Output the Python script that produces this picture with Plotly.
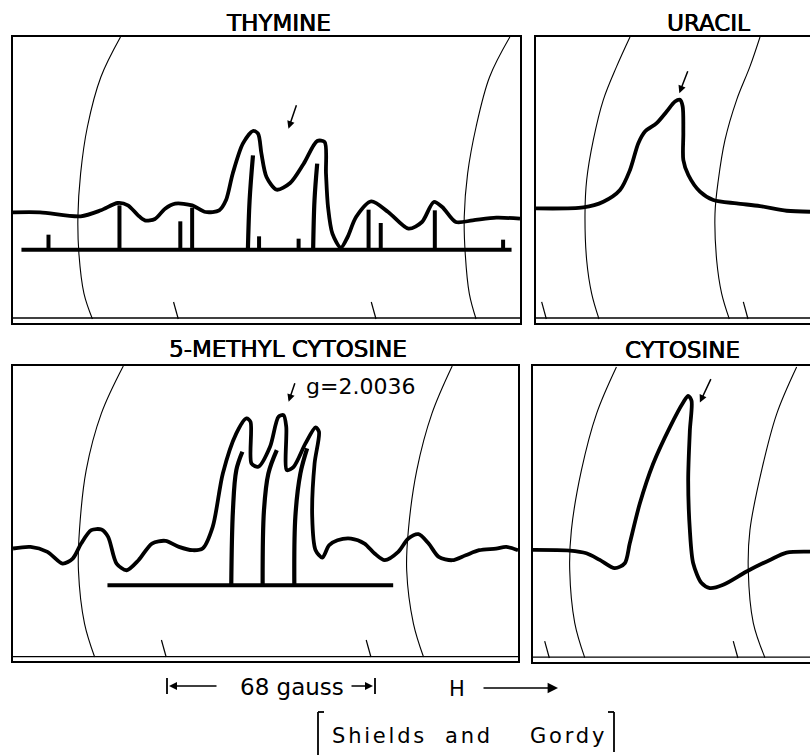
import plotly.graph_objects as go

W, H = 810, 755

# ---------------- THYMINE (panel 1) ----------------
thy_curve_x = [0, 8, 20, 26, 31, 34, 37, 39, 42, 45, 48, 53, 57, 61, 63, 65, 68, 71, 72.5, 73.5, 75,
               78, 82, 86, 90, 92.2, 92.6, 93.2, 94.5, 97, 99, 101.5, 106, 111, 117, 121, 124.5, 127,
               131, 136, 143, 150]
thy_curve_y = [33.2, 33.2, 32.0, 33.8, 36.0, 35.3, 32.3, 30.8, 31.2, 34.3, 35.8, 35.3, 33.3, 33.8, 36.8,
               44.8, 53.8, 57.6, 56.8, 50.8, 43.8, 40.0, 42.0, 47.8, 54.6, 54.3, 44.8, 34.8, 26.8, 22.6,
               25.8, 31.8, 36.5, 33.3, 28.3, 30.3, 36.3, 34.8, 30.3, 30.8, 31.6, 31.3]
thy_stick_x = [10.5, 31.5, 49.5, 53, 72.8, 84.5, 105.2, 108.8, 124.8, 145]
thy_stick_top = [26.5, 35.3, 30.5, 34.6, 26.0, 25.3, 34.0, 30.0, 33.8, 25.0]
thy_tall1_x = [69.5, 70.0, 71.0]
thy_tall1_y = [22.0, 36.8, 50.3]
thy_tall2_x = [88.8, 89.2, 90.0]
thy_tall2_y = [22.0, 36.8, 47.8]
thy_base_y = 22.0
thy_base_x = [2.5, 147.5]
thy_arc_y = [85.8, 73.8, 58.8, 44.8, 31.8, 20.8, 8.8, 1.2]
thy_arcL_x = [31.8, 26, 22, 20, 19.2, 19.5, 21, 23.5]
thy_arcR_x = [147, 141, 137, 134.5, 133.5, 133.8, 135, 137]
thy_tick_x = [47.5, 106]

# ---------------- URACIL (panel 2) ----------------
ura_curve_x = [0, 14.2, 20.2, 25.2, 28.2, 30.7, 32.7, 36.2, 39.2, 41.7, 43.2, 44, 44.2, 44.2, 45.7,
               49.2, 53.2, 60.2, 67.2, 75.2, 82.2]
ura_curve_y = [34.3, 34.6, 36.3, 39.8, 45.8, 53.8, 57.3, 59.8, 63.3, 66.3, 66.8, 64.8, 56.8, 48.8, 44.3,
               39.3, 36.8, 35.8, 35.0, 33.6, 33.3]
ura_arc_y = [85.6, 76.8, 66.8, 54.8, 42.8, 32.8, 18.8, 8.8, 1.2]
ura_arcL_x = [28.2, 24.2, 20.2, 17.2, 15.2, 14.7, 15.2, 16.7, 18.9]
ura_arcR_x = [67.2, 64.2, 60.2, 56.7, 54.7, 53.7, 54.2, 55.7, 58.0]
ura_tick_x = [1.7, 62.2]

# ---------------- 5-METHYL CYTOSINE (panel 3) ----------------
mc_curve_x = [0, 5.2, 10.2, 14.7, 17.7, 20.2, 23.2, 26.2, 28.2, 30.7, 33.7, 37.2, 41.2, 45.2, 49.2,
              53.2, 56.2, 59.2, 62.2, 66.2, 69.2, 70.4, 70.7, 72.7, 76.2, 78.7, 80.2, 81.0, 81.2,
              83.2, 86.7, 89.7, 90.7, 89.4, 88.7, 89.7, 91.7, 93.7, 96.2, 100.2, 104.2, 107.2,
              110.2, 114.2, 117.2, 120.2, 123.2, 126.2, 130.2, 134.2, 138.2, 143.2, 146.2, 149.7]
mc_curve_y = [33.7, 34.2, 32.7, 29.2, 30.7, 35.2, 39.2, 39.4, 37.2, 29.2, 27.2, 30.2, 35.2, 36.0, 34.2,
              33.2, 33.7, 40.2, 56.2, 68.2, 72.7, 71.7, 59.2, 58.2, 64.2, 73.2, 73.7, 70.2, 57.2,
              58.2, 65.2, 70.0, 68.7, 59.2, 43.2, 33.2, 31.0, 34.7, 36.2, 36.7, 35.2, 32.2,
              30.2, 32.7, 36.7, 38.0, 35.2, 31.2, 30.2, 31.7, 33.2, 33.7, 34.2, 33.2]
mc_stick1_x = [64.7, 65.2, 66.2, 68.0]
mc_stick1_y = [22.7, 45.2, 57.2, 62.7]
mc_stick2_x = [74.0, 74.4, 75.7, 78.2]
mc_stick2_y = [22.7, 45.2, 56.2, 63.2]
mc_stick3_x = [83.4, 83.7, 85.2, 87.2]
mc_stick3_y = [22.7, 43.2, 56.2, 63.7]
mc_base_y = 22.7
mc_base_x = [28.0, 112.7]
mc_arc_y = [88.4, 74.2, 57.2, 39.2, 27.2, 11.2, 1.2]
mc_arcL_x = [32.7, 26.2, 21.7, 19.7, 19.4, 21.2, 24.2]
mc_arcR_x = [130.2, 124.2, 119.7, 117.2, 116.7, 118.7, 121.7]
mc_tick_x = [44.0, 104.7]

# ---------------- CYTOSINE (panel 4) ----------------
cy_curve_x = [0, 11, 16, 20, 24.5, 27.5, 29, 32, 36, 41, 45, 46.5, 47.5, 47, 46.5, 47, 48, 50.5, 53,
              57, 64, 71, 76, 83]
cy_curve_y = [33.8, 33.6, 32.8, 30.8, 28.3, 29.8, 35.8, 47.8, 59.8, 70.8, 78.3, 80.3, 78.8, 69.8,
              54.8, 39.8, 29.8, 23.8, 22.3, 23.3, 27.3, 30.8, 33.0, 33.3]
cy_arc_y = [89.0, 74.8, 57.8, 39.8, 27.8, 11.8, 1.3]
cy_arcL_x = [25, 19, 14.5, 11.5, 11, 12.5, 15.5]
cy_arcR_x = [79, 73, 68.5, 65, 64.5, 66, 69.5]
cy_tick_x = [3.5, 60.0]

titles = ["THYMINE", "URACIL", "5-METHYL CYTOSINE", "CYTOSINE"]
g_label = "g=2.0036"
citation_words = ["Shields", "and", "Gordy"]

# ---------------- panel geometry (pixels) ----------------
def dom_x(a, b):
    return [a / W, min(b / W, 1.0)]

def dom_y(top, bot):
    return [1 - bot / H, 1 - top / H]

panels = [
    dict(dx=dom_x(13, 520), dy=dom_y(37, 323), xr=[0, 150], yr=[0, 85.8], inner=1.5, box=True),
    dict(dx=dom_x(536, 810), dy=dom_y(37, 323), xr=[0, 82.2], yr=[0, 85.6], inner=1.5, box=False),
    dict(dx=dom_x(13, 518), dy=dom_y(366, 661), xr=[0, 149.7], yr=[0, 88.4], inner=1.3, box=True),
    dict(dx=dom_x(533, 810), dy=dom_y(366, 662), xr=[0, 83], yr=[0, 89.3], inner=1.5, box=False),
]

fig = go.Figure()
BLK = "black"

def ax_names(i):
    return ("x" if i == 1 else f"x{i}"), ("y" if i == 1 else f"y{i}")

def line(i, xs, ys, w, smooth=None):
    xa, ya = ax_names(i)
    kw = dict(shape="spline", smoothing=smooth) if smooth else dict(shape="linear")
    fig.add_trace(go.Scatter(x=xs, y=ys, mode="lines", xaxis=xa, yaxis=ya,
                             line=dict(color=BLK, width=w, **kw),
                             hoverinfo="skip", showlegend=False))

def sticks(i, xs, tops, base, w):
    sx, sy = [], []
    for x, t in zip(xs, tops):
        sx += [x, x, None]
        sy += [base, t, None]
    line(i, sx, sy, w)

def ticks(i, xs, w=1.2):
    sx, sy = [], []
    for x in xs:
        sx += [x, x + 1.4, None]
        sy += [6.3, 1.2, None]
    line(i, sx, sy, w)

THIN = 1.1
CW = 3.8
# panel 1
line(1, thy_arcL_x, thy_arc_y, THIN, 1.0)
line(1, thy_arcR_x, thy_arc_y, THIN, 1.0)
ticks(1, thy_tick_x)
line(1, thy_base_x, [thy_base_y, thy_base_y], 4)
sticks(1, thy_stick_x, thy_stick_top, thy_base_y, 4)
line(1, thy_tall1_x, thy_tall1_y, 4.2, 1.0)
line(1, thy_tall2_x, thy_tall2_y, 4.2, 1.0)
line(1, thy_curve_x, thy_curve_y, CW, 0.8)
# panel 2
line(2, ura_arcL_x, ura_arc_y, THIN, 1.0)
line(2, ura_arcR_x, ura_arc_y, THIN, 1.0)
ticks(2, ura_tick_x)
line(2, ura_curve_x, ura_curve_y, CW, 0.8)
# panel 3
line(3, mc_arcL_x, mc_arc_y, THIN, 1.0)
line(3, mc_arcR_x, mc_arc_y, THIN, 1.0)
ticks(3, mc_tick_x)
line(3, mc_base_x, [mc_base_y, mc_base_y], 4)
line(3, mc_stick1_x, mc_stick1_y, 4.2, 1.0)
line(3, mc_stick2_x, mc_stick2_y, 4.2, 1.0)
line(3, mc_stick3_x, mc_stick3_y, 4.2, 1.0)
line(3, mc_curve_x, mc_curve_y, CW, 0.8)
# panel 4
line(4, cy_arcL_x, cy_arc_y, THIN, 1.0)
line(4, cy_arcR_x, cy_arc_y, THIN, 1.0)
ticks(4, cy_tick_x)
line(4, cy_curve_x, cy_curve_y, CW, 0.8)

layout = dict(width=W, height=H, margin=dict(l=0, r=0, t=0, b=0),
              paper_bgcolor="white", plot_bgcolor="white", showlegend=False)
shapes = []
for i, p in enumerate(panels, start=1):
    xa, ya = ax_names(i)
    kx = "xaxis" if i == 1 else f"xaxis{i}"
    ky = "yaxis" if i == 1 else f"yaxis{i}"
    layout[kx] = dict(domain=p["dx"], range=p["xr"], anchor=ya, showgrid=False, zeroline=False,
                      showticklabels=False, ticks="", showline=True, mirror=True,
                      linecolor=BLK, linewidth=1.6, fixedrange=True)
    layout[ky] = dict(domain=p["dy"], range=p["yr"], anchor=xa, showgrid=False, zeroline=False,
                      showticklabels=False, ticks="", showline=True, mirror=p["box"],
                      linecolor=BLK, linewidth=1.6, fixedrange=True)
    shapes.append(dict(type="line", xref=f"{xa} domain", yref=ya, x0=0, x1=1,
                       y0=p["inner"], y1=p["inner"], line=dict(color=BLK, width=1.3)))

FONT = "DejaVu Sans"
SHADOW = "0.4px 0 0 black, -0.2px 0 0 black"
ann = []
def ptxt(x, y, text, size, xanchor="center", shadow="none"):
    ann.append(dict(xref="paper", yref="paper", x=x / W, y=1 - y / H, text=text, showarrow=False,
                    xanchor=xanchor, yanchor="middle",
                    font=dict(family=FONT, size=size, color=BLK, shadow=shadow)))

ptxt(278, 23, titles[0], 23, shadow=SHADOW)
ptxt(708, 23, titles[1], 23, shadow=SHADOW)
ptxt(288, 349, titles[2], 23, shadow=SHADOW)
ptxt(682, 350, titles[3], 23, shadow=SHADOW)

# data-space arrows
def darrow(i, hx, hy, tx, ty):
    xa, ya = ax_names(i)
    ann.append(dict(xref=xa, yref=ya, axref=xa, ayref=ya, x=hx, y=hy, ax=tx, ay=ty, text="",
                    showarrow=True, arrowhead=2, arrowsize=1, arrowwidth=1.5, arrowcolor=BLK))

darrow(1, 81.5, 58.3, 84.0, 65.8)
darrow(2, 43.0, 68.8, 45.7, 75.8)
darrow(3, 81.7, 77.7, 83.7, 83.7)
darrow(4, 50.0, 78.3, 53.5, 85.8)
ann.append(dict(xref="x3", yref="y3", x=86.3, y=82.2, text=g_label, showarrow=False,
                xanchor="left", yanchor="middle", font=dict(family=FONT, size=22, color=BLK)))

# scale bar and field arrow
def parrow(hx, hy, tx, ty, head=2, size=1.0):
    ann.append(dict(xref="paper", yref="paper", x=hx / W, y=1 - hy / H, ax=tx - hx, ay=ty - hy,
                    axref="pixel", ayref="pixel", text="", showarrow=True, arrowhead=head,
                    arrowsize=size, arrowwidth=1.6, arrowcolor=BLK))

parrow(169, 686, 218, 686)
parrow(373, 686, 350, 686)
parrow(558, 688, 482, 688, head=2, size=1.3)
ptxt(292, 687, "68 gauss", 23)
ptxt(457, 689, "H", 21)

def pline(x0, y0, x1, y1, w=1.8):
    shapes.append(dict(type="line", xref="paper", yref="paper", x0=x0 / W, y0=1 - y0 / H,
                       x1=x1 / W, y1=1 - y1 / H, line=dict(color=BLK, width=w)))

pline(167, 678, 167, 694)
pline(375, 678, 375, 694)
# citation brackets
pline(318, 712, 318, 755)
pline(318, 712, 324, 712)
pline(614, 712, 614, 752)
pline(608, 712, 614, 712)

for word, x0 in zip(citation_words, [330, 443, 528]):
    ptxt(x0, 736, f'<span style="letter-spacing:2.8px">{word}</span>', 21, xanchor="left")

layout["shapes"] = shapes
layout["annotations"] = ann
fig.update_layout(**layout)
fig.write_html("out.html", config={"displayModeBar": False},
               post_script="document.body.style.margin='0';document.body.style.overflow='hidden';")
